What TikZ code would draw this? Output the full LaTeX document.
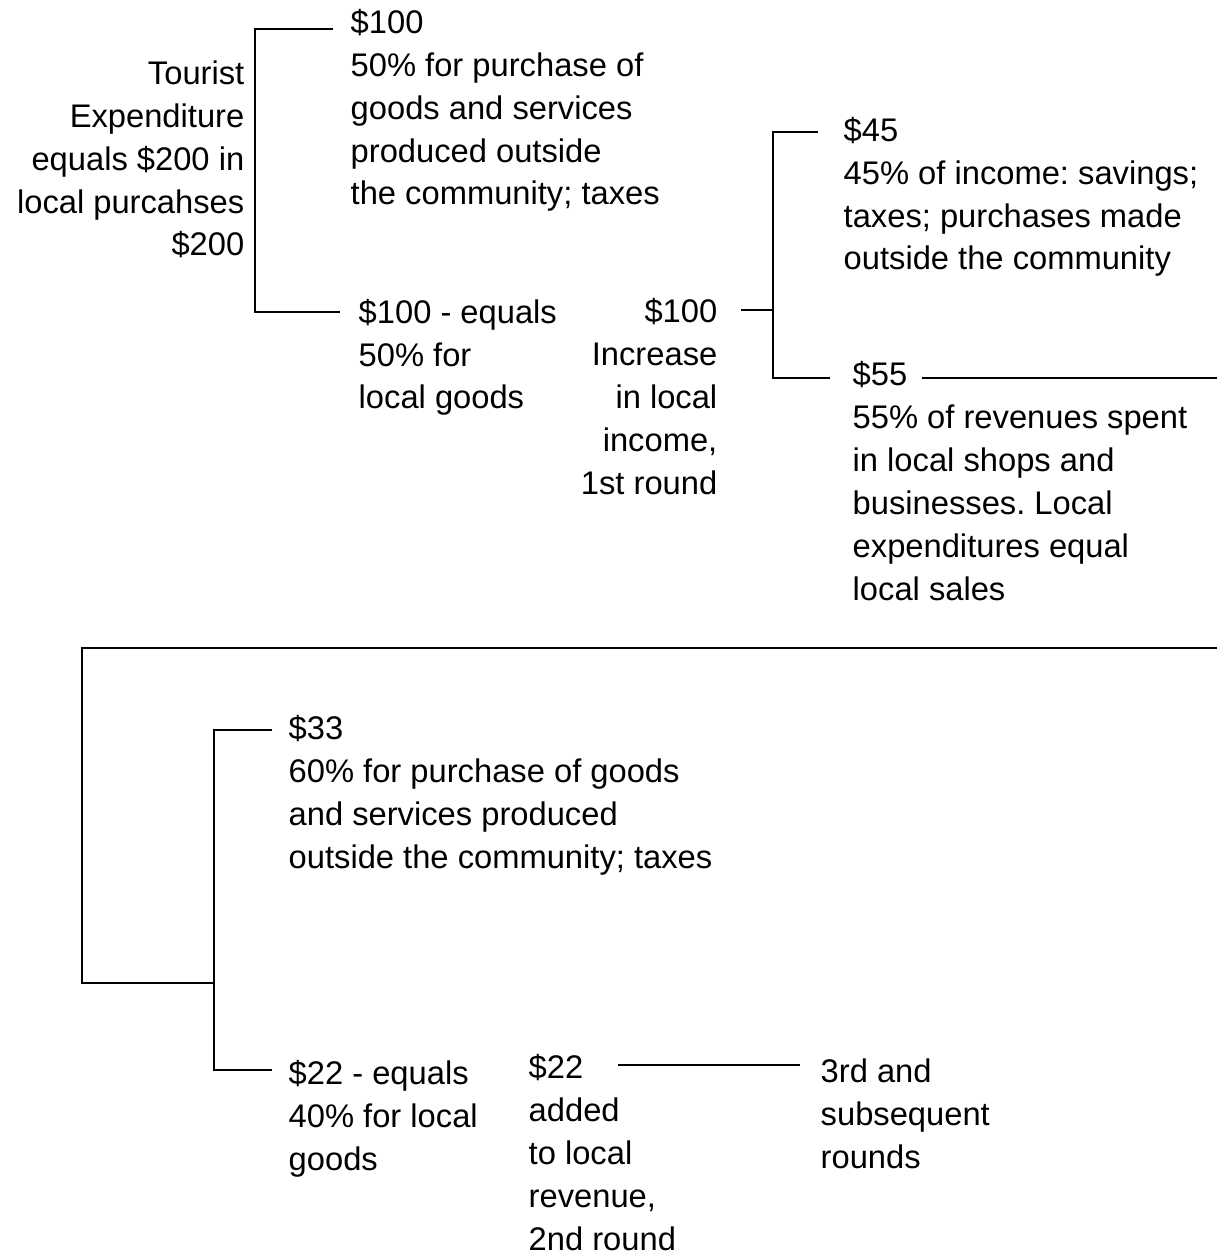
\documentclass[tikz,border=0pt]{standalone}
\usepackage{fontspec}
\setmainfont{Liberation Sans}
\frenchspacing
\tikzset{
  txt/.style={anchor=base west, align=left, inner sep=0pt, font=\fontsize{9.3}{12.2}\selectfont},
  txtr/.style={anchor=base east, align=right, inner sep=0pt, font=\fontsize{9.3}{12.2}\selectfont},
  wire/.style={draw=black, line width=0.6pt},
}

\begin{document}
\begin{tikzpicture}[x=0.01cm, y=-0.01cm]
  \useasboundingbox (0,0) rectangle (1217,1258);

  % Tourist spending (nodes sit on the baseline of their last line)
  \node[txtr] (tourist) at (245,256) {Tourist\\Expenditure\\equals \$200 in\\local purcahses\\\$200};
  \node[txt] (outA) at (350,205) {\$100\\50\% for purchase of\\goods and services\\produced outside\\the community; taxes};
  \node[txt] (localA) at (358,409) {\$100 - equals\\50\% for\\local goods};
  \coordinate (aTop) at (333,29);
  \coordinate (aBot) at (340,312);
  \draw[wire] (aTop) -- (255,29) -- (255,312) -- (aBot);

  % First round of local income
  \node[txtr] (incA) at (718,494) {\$100\\Increase\\in local\\income,\\1st round};
  \node[txt] (outB) at (843,270) {\$45\\45\% of income: savings;\\taxes; purchases made\\outside the community};
  \node[txt] (spendB) at (852,600) {\$55\\55\% of revenues spent\\in local shops and\\businesses. Local\\expenditures equal\\local sales};
  \coordinate (bIn) at (741,310);
  \coordinate (bTop) at (818,132);
  \coordinate (bBot) at (830,378);
  \draw[wire] (bIn) -- (773,310);
  \draw[wire] (bTop) -- (773,132) -- (773,378) -- (bBot);

  % Carry over to the second round
  \coordinate (bOut) at (922,378);
  \coordinate (edgeA) at (1217,378);
  \coordinate (edgeB) at (1217,648);
  \coordinate (cIn) at (214,983);
  \draw[wire] (bOut) -- (edgeA);
  \draw[wire] (edgeB) -- (82,648) -- (82,983) -- (cIn);

  % Second round split
  \node[txt] (outC) at (288,868) {\$33\\60\% for purchase of goods\\and services produced\\outside the community; taxes};
  \node[txt] (localC) at (288,1170) {\$22 - equals\\40\% for local\\goods};
  \coordinate (cTop) at (272,730);
  \coordinate (cBot) at (272,1070);
  \draw[wire] (cTop) -- (214,730) -- (214,1070) -- (cBot);

  % Later rounds
  \node[txt] (addC) at (528,1250) {\$22\\added\\to local\\revenue,\\2nd round};
  \node[txt] (later) at (820,1168) {3rd and\\subsequent\\rounds};
  \coordinate (dIn) at (618,1065);
  \coordinate (dOut) at (800,1065);
  \draw[wire] (dIn) -- (dOut);
\end{tikzpicture}
\end{document}
